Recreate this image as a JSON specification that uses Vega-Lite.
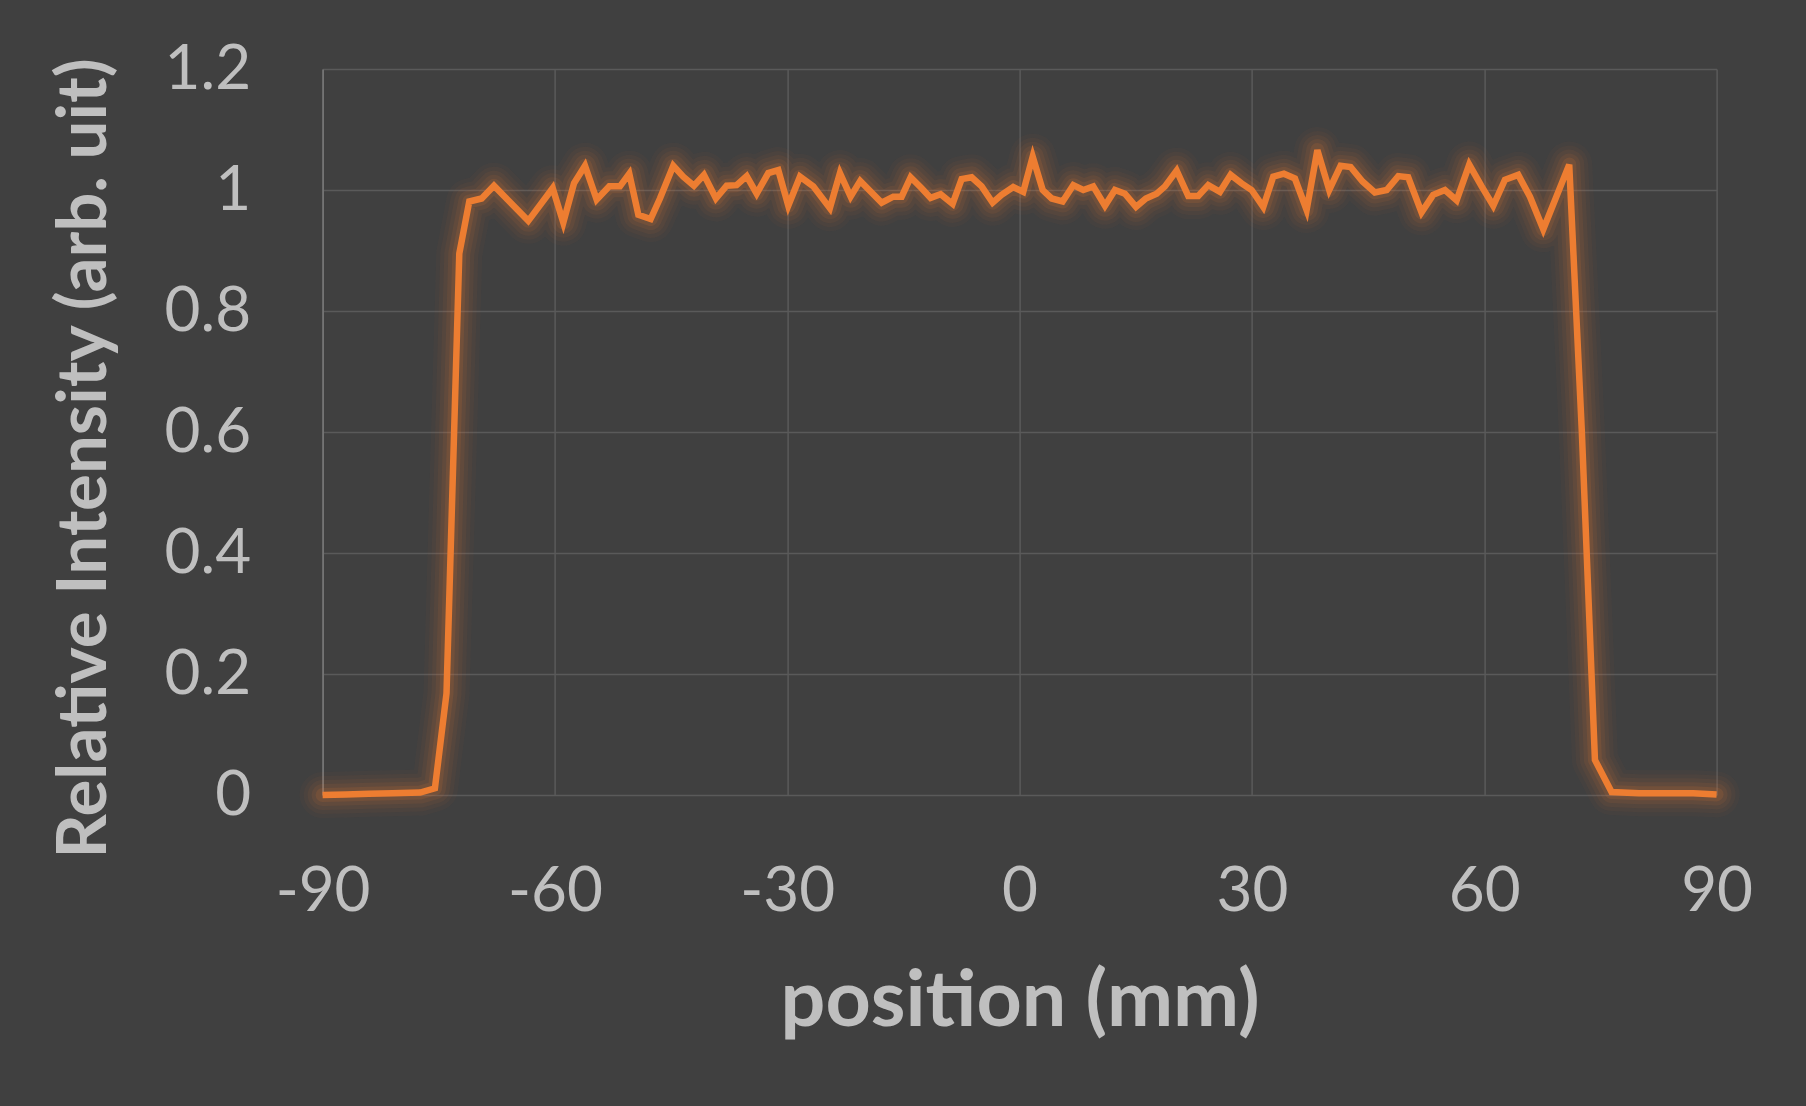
{
  "$schema": "https://vega.github.io/schema/vega-lite/v6.json",
  "width": 1394,
  "height": 726,
  "autosize": "none",
  "padding": {"left": 322.6, "top": 69, "right": 89.4, "bottom": 311},
  "background": "#404040",
  "config": {
    "view": {"stroke": null},
    "font": "Lato",
    "axis": {
      "gridColor": "#5a5a5a",
      "gridWidth": 1.5,
      "ticks": false,
      "labelColor": "#bfbfbf",
      "labelFont": "Lato",
      "labelFontSize": 62,
      "titleColor": "#bfbfbf",
      "titleFont": "Lato",
      "titleFontWeight": "bold"
    }
  },
  "data": {
    "values": [
      {"position": -90, "intensity": 0.000},
      {"position": -87, "intensity": 0.001},
      {"position": -84, "intensity": 0.002},
      {"position": -81, "intensity": 0.003},
      {"position": -77.4, "intensity": 0.004},
      {"position": -75.5, "intensity": 0.011},
      {"position": -74.0, "intensity": 0.168},
      {"position": -72.35, "intensity": 0.895},
      {"position": -71.06, "intensity": 0.981},
      {"position": -69.46, "intensity": 0.986},
      {"position": -67.87, "intensity": 1.007},
      {"position": -63.44, "intensity": 0.949},
      {"position": -60.29, "intensity": 1.003},
      {"position": -58.92, "intensity": 0.946},
      {"position": -57.54, "intensity": 1.011},
      {"position": -56.12, "intensity": 1.040},
      {"position": -54.61, "intensity": 0.984},
      {"position": -52.98, "intensity": 1.006},
      {"position": -51.6, "intensity": 1.006},
      {"position": -50.4, "intensity": 1.027},
      {"position": -49.23, "intensity": 0.959},
      {"position": -47.64, "intensity": 0.952},
      {"position": -46.44, "intensity": 0.986},
      {"position": -44.72, "intensity": 1.040},
      {"position": -43.43, "intensity": 1.022},
      {"position": -42.05, "intensity": 1.007},
      {"position": -40.76, "intensity": 1.025},
      {"position": -39.21, "intensity": 0.986},
      {"position": -37.83, "intensity": 1.007},
      {"position": -36.54, "intensity": 1.008},
      {"position": -35.24, "intensity": 1.023},
      {"position": -33.95, "intensity": 0.994},
      {"position": -32.45, "intensity": 1.028},
      {"position": -31.16, "intensity": 1.033},
      {"position": -29.87, "intensity": 0.974},
      {"position": -28.36, "intensity": 1.022},
      {"position": -26.64, "intensity": 1.006},
      {"position": -24.5, "intensity": 0.970},
      {"position": -23.2, "intensity": 1.028},
      {"position": -21.82, "intensity": 0.989},
      {"position": -20.58, "intensity": 1.015},
      {"position": -17.81, "intensity": 0.979},
      {"position": -16.31, "intensity": 0.989},
      {"position": -15.23, "intensity": 0.989},
      {"position": -14.07, "intensity": 1.021},
      {"position": -12.65, "intensity": 1.003},
      {"position": -11.49, "intensity": 0.987},
      {"position": -10.2, "intensity": 0.993},
      {"position": -8.65, "intensity": 0.977},
      {"position": -7.49, "intensity": 1.018},
      {"position": -6.19, "intensity": 1.021},
      {"position": -4.9, "intensity": 1.006},
      {"position": -3.48, "intensity": 0.979},
      {"position": -2.32, "intensity": 0.992},
      {"position": -0.82, "intensity": 1.005},
      {"position": 0.47, "intensity": 0.997},
      {"position": 1.69, "intensity": 1.055},
      {"position": 2.98, "intensity": 1.000},
      {"position": 4.14, "intensity": 0.986},
      {"position": 5.56, "intensity": 0.981},
      {"position": 6.93, "intensity": 1.008},
      {"position": 8.22, "intensity": 1.000},
      {"position": 9.51, "intensity": 1.006},
      {"position": 11.02, "intensity": 0.974},
      {"position": 12.31, "intensity": 1.000},
      {"position": 13.6, "intensity": 0.994},
      {"position": 15.03, "intensity": 0.972},
      {"position": 16.3, "intensity": 0.986},
      {"position": 17.7, "intensity": 0.994},
      {"position": 18.77, "intensity": 1.006},
      {"position": 20.28, "intensity": 1.032},
      {"position": 21.78, "intensity": 0.990},
      {"position": 23.07, "intensity": 0.990},
      {"position": 24.36, "intensity": 1.008},
      {"position": 25.87, "intensity": 0.997},
      {"position": 27.25, "intensity": 1.025},
      {"position": 28.67, "intensity": 1.011},
      {"position": 29.96, "intensity": 1.000},
      {"position": 31.46, "intensity": 0.972},
      {"position": 32.75, "intensity": 1.022},
      {"position": 34.13, "intensity": 1.027},
      {"position": 35.55, "intensity": 1.019},
      {"position": 37.06, "intensity": 0.967},
      {"position": 38.45, "intensity": 1.066},
      {"position": 39.98, "intensity": 1.000},
      {"position": 41.45, "intensity": 1.040},
      {"position": 42.74, "intensity": 1.038},
      {"position": 44.28, "intensity": 1.014},
      {"position": 45.87, "intensity": 0.996},
      {"position": 47.4, "intensity": 1.000},
      {"position": 48.9, "intensity": 1.023},
      {"position": 50.18, "intensity": 1.021},
      {"position": 51.9, "intensity": 0.963},
      {"position": 53.4, "intensity": 0.992},
      {"position": 54.92, "intensity": 1.000},
      {"position": 56.43, "intensity": 0.983},
      {"position": 58.06, "intensity": 1.042},
      {"position": 59.66, "intensity": 1.006},
      {"position": 61.16, "intensity": 0.974},
      {"position": 62.67, "intensity": 1.017},
      {"position": 64.39, "intensity": 1.025},
      {"position": 65.9, "intensity": 0.989},
      {"position": 67.62, "intensity": 0.935},
      {"position": 70.97, "intensity": 1.042},
      {"position": 72.6, "intensity": 0.600},
      {"position": 74.29, "intensity": 0.058},
      {"position": 76.44, "intensity": 0.005},
      {"position": 80, "intensity": 0.003},
      {"position": 84, "intensity": 0.003},
      {"position": 87, "intensity": 0.003},
      {"position": 90, "intensity": 0.001}
    ]
  },
  "encoding": {
    "x": {
      "field": "position",
      "type": "quantitative",
      "scale": {"domain": [-90, 90], "nice": false},
      "axis": {
        "values": [-90, -60, -30, 0, 30, 60, 90],
        "labelExpr": "datum.value + ''",
        "domain": false,
        "labelBaseline": "middle",
        "labelPadding": 96,
        "labelFlush": false,
        "title": "position (mm)",
        "titleFontSize": 79,
        "titleBaseline": "alphabetic",
        "titleY": 230
      }
    },
    "y": {
      "field": "intensity",
      "type": "quantitative",
      "scale": {"domain": [0, 1.2], "nice": false},
      "axis": {
        "values": [0, 0.2, 0.4, 0.6, 0.8, 1, 1.2],
        "format": "~g",
        "domain": true,
        "domainColor": "#7a7a7a",
        "domainWidth": 1.5,
        "labelPadding": 72,
        "labelBaseline": "middle",
        "title": "Relative Intensity (arb. uit)",
        "titleFontSize": 69,
        "titleBaseline": "middle",
        "titleAlign": "center",
        "titleAngle": -90,
        "titleX": -238,
        "titleY": 389
      }
    }
  },
  "layer": [
    {"mark": {"type": "line", "color": "#ED7D31", "strokeWidth": 46, "opacity": 0.035, "strokeJoin": "round", "strokeCap": "round"}},
    {"mark": {"type": "line", "color": "#ED7D31", "strokeWidth": 38, "opacity": 0.045, "strokeJoin": "round", "strokeCap": "round"}},
    {"mark": {"type": "line", "color": "#ED7D31", "strokeWidth": 30, "opacity": 0.06, "strokeJoin": "round", "strokeCap": "round"}},
    {"mark": {"type": "line", "color": "#ED7D31", "strokeWidth": 22, "opacity": 0.08, "strokeJoin": "round", "strokeCap": "round"}},
    {"mark": {"type": "line", "color": "#ED7D31", "strokeWidth": 14, "opacity": 0.12, "strokeJoin": "round", "strokeCap": "round"}},
    {"mark": {"type": "line", "color": "#ED7D31", "strokeWidth": 6.5, "strokeJoin": "miter"}}
  ]
}
